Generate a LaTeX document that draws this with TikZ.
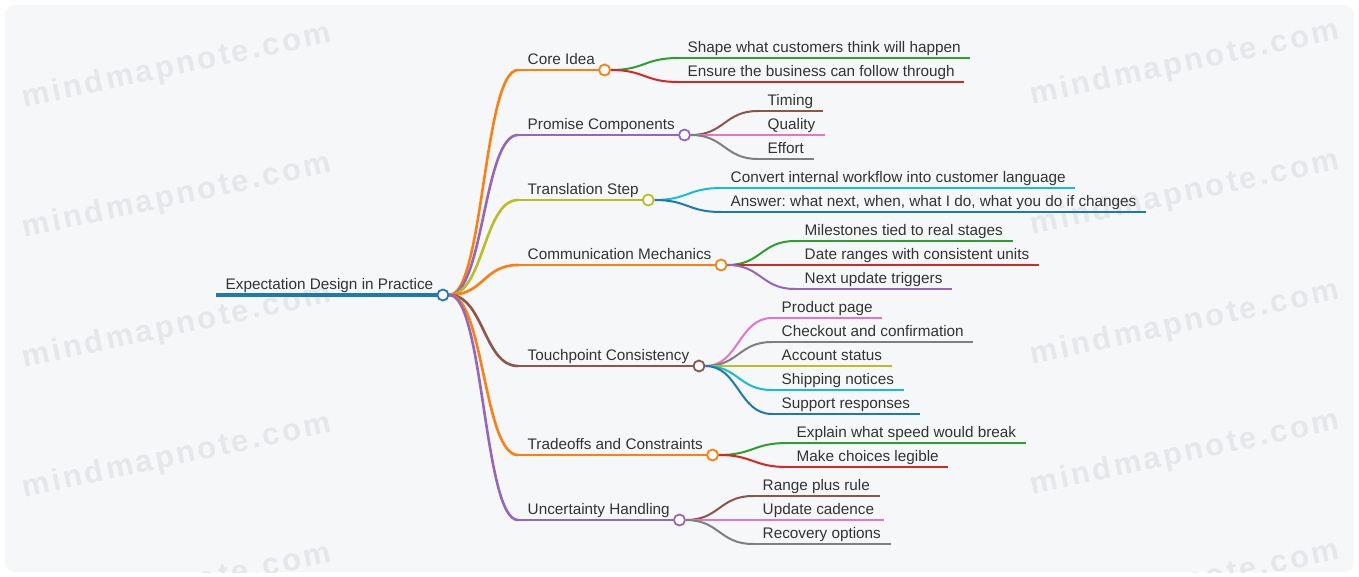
\documentclass[tikz,border=0pt]{standalone}
\usepackage{fontspec}
\setmainfont{Liberation Sans}
\newfontfamily\wmfont[LetterSpace=9]{Liberation Sans}
\usetikzlibrary{calc}
\frenchspacing
\definecolor{cblue}{HTML}{1F77B4}
\definecolor{corange}{HTML}{FF7F0E}
\definecolor{cgreen}{HTML}{2CA02C}
\definecolor{cred}{HTML}{D62728}
\definecolor{cpurple}{HTML}{9467BD}
\definecolor{cbrown}{HTML}{8C564B}
\definecolor{cpink}{HTML}{E377C2}
\definecolor{cgray}{HTML}{7F7F7F}
\definecolor{colive}{HTML}{BCBD22}
\definecolor{ccyan}{HTML}{17BECF}
\definecolor{txt}{HTML}{333333}
\definecolor{panel}{HTML}{F6F7F9}
\definecolor{wm}{HTML}{E5E7EA}
\pgfdeclarelayer{back}
\pgfdeclarelayer{bg}
\pgfsetlayers{back,bg,main}
\tikzset{
  lbl/.style={anchor=south west, inner xsep=9.5pt, inner ysep=5pt, text depth=0pt,
    font=\frenchspacing\fontsize{15.3}{18}\selectfont, text=txt},
  dot/.style={circle, draw=#1, fill=white, line width=1.8pt, minimum size=11pt, inner sep=0pt},
  rootline/.style={line width=4pt},
  branchline/.style={line width=2.6pt},
  leafline/.style={line width=2pt},
  wmtext/.style={rotate=12, text=wm, font=\wmfont\bfseries\fontsize{31}{34}\selectfont}
}
\newcommand\mmlink[3]{%
  \draw[#3] let \p1=(#1.east), \p2=(#2.south west) in
    (\p1) .. controls ({(\x1+\x2)/2},\y1) and ({(\x1+\x2)/2},\y2) .. (\p2);}
\newcommand\uline[3]{\draw[#3] (#1.south west) -- (#2.south east);}
\begin{document}
\begin{tikzpicture}[x=1pt,y=-1pt]
\useasboundingbox (0,0) rectangle (1359,577);
\begin{pgfonlayer}{back}
  \fill[white] (0,0) rectangle (1359,577);
  \fill[panel, rounded corners=10pt] (5,5) rectangle (1354,572);
  \begin{scope}
    \clip[rounded corners=10pt] (5,5) rectangle (1354,572);
    \foreach \j/\yy in {1/67,2/197,3/327,4/457,5/587}{
      \node[wmtext] (wmL\j) at (177,\yy) {mindmapnote.com};
      \node[wmtext] (wmR\j) at (1185,\yy-3) {mindmapnote.com};
    }
  \end{scope}
\end{pgfonlayer}

% root
\node[lbl] (root) at (216,295) {Expectation Design in Practice};

% branches
\node[lbl] (b1) at (518,70) {Core Idea};
\node[lbl] (b2) at (518,135) {Promise Components};
\node[lbl] (b3) at (518,200) {Translation Step};
\node[lbl] (b4) at (518,265) {Communication Mechanics};
\node[lbl] (b5) at (518,366) {Touchpoint Consistency};
\node[lbl] (b6) at (518,455) {Tradeoffs and Constraints};
\node[lbl] (b7) at (518,520) {Uncertainty Handling};

% leaves
\node[lbl] (l11) at (678,58) {Shape what customers think will happen};
\node[lbl] (l12) at (678,82) {Ensure the business can follow through};
\node[lbl] (l21) at (758,111) {Timing};
\node[lbl] (l22) at (758,135) {Quality};
\node[lbl] (l23) at (758,159) {Effort};
\node[lbl] (l31) at (721,188) {Convert internal workflow into customer language};
\node[lbl] (l32) at (721,212) {Answer: what next, when, what I do, what you do if changes};
\node[lbl] (l41) at (795,241) {Milestones tied to real stages};
\node[lbl] (l42) at (795,265) {Date ranges with consistent units};
\node[lbl] (l43) at (795,289) {Next update triggers};
\node[lbl] (l51) at (772,318) {Product page};
\node[lbl] (l52) at (772,342) {Checkout and confirmation};
\node[lbl] (l53) at (772,366) {Account status};
\node[lbl] (l54) at (772,390) {Shipping notices};
\node[lbl] (l55) at (772,414) {Support responses};
\node[lbl] (l61) at (787,443) {Explain what speed would break};
\node[lbl] (l62) at (787,467) {Make choices legible};
\node[lbl] (l71) at (753,496) {Range plus rule};
\node[lbl] (l72) at (753,520) {Update cadence};
\node[lbl] (l73) at (753,544) {Recovery options};

% dots
\node[dot=cblue] (r0) at (root.south east) {};
\node[dot=corange] (d1) at (b1.south east) {};
\node[dot=cpurple] (d2) at (b2.south east) {};
\node[dot=colive] (d3) at (b3.south east) {};
\node[dot=corange] (d4) at (b4.south east) {};
\node[dot=cbrown] (d5) at (b5.south east) {};
\node[dot=corange] (d6) at (b6.south east) {};
\node[dot=cpurple] (d7) at (b7.south east) {};

\begin{pgfonlayer}{bg}
  % underlines
  \uline{root}{root}{cblue, rootline}
  \uline{b1}{b1}{corange, branchline}
  \uline{b2}{b2}{cpurple, branchline}
  \uline{b3}{b3}{colive, branchline}
  \uline{b4}{b4}{corange, branchline}
  \uline{b5}{b5}{cbrown, branchline}
  \uline{b6}{b6}{corange, branchline}
  \uline{b7}{b7}{cpurple, branchline}
  \uline{l11}{l11}{cgreen, leafline}
  \uline{l12}{l12}{cred, leafline}
  \uline{l21}{l21}{cbrown, leafline}
  \uline{l22}{l22}{cpink, leafline}
  \uline{l23}{l23}{cgray, leafline}
  \uline{l31}{l31}{ccyan, leafline}
  \uline{l32}{l32}{cblue, leafline}
  \uline{l41}{l41}{cgreen, leafline}
  \uline{l42}{l42}{cred, leafline}
  \uline{l43}{l43}{cpurple, leafline}
  \uline{l51}{l51}{cpink, leafline}
  \uline{l52}{l52}{cgray, leafline}
  \uline{l53}{l53}{colive, leafline}
  \uline{l54}{l54}{ccyan, leafline}
  \uline{l55}{l55}{cblue, leafline}
  \uline{l61}{l61}{cgreen, leafline}
  \uline{l62}{l62}{cred, leafline}
  \uline{l71}{l71}{cbrown, leafline}
  \uline{l72}{l72}{cpink, leafline}
  \uline{l73}{l73}{cgray, leafline}
  % root to branches
  \mmlink{r0}{b1}{corange, branchline}
  \mmlink{r0}{b2}{cpurple, branchline}
  \mmlink{r0}{b3}{colive, branchline}
  \mmlink{r0}{b4}{corange, branchline}
  \mmlink{r0}{b5}{cbrown, branchline}
  \mmlink{r0}{b6}{corange, branchline}
  \mmlink{r0}{b7}{cpurple, branchline}
  % branches to leaves
  \mmlink{d1}{l11}{cgreen, leafline}
  \mmlink{d1}{l12}{cred, leafline}
  \mmlink{d2}{l21}{cbrown, leafline}
  \mmlink{d2}{l22}{cpink, leafline}
  \mmlink{d2}{l23}{cgray, leafline}
  \mmlink{d3}{l31}{ccyan, leafline}
  \mmlink{d3}{l32}{cblue, leafline}
  \mmlink{d4}{l41}{cgreen, leafline}
  \mmlink{d4}{l42}{cred, leafline}
  \mmlink{d4}{l43}{cpurple, leafline}
  \mmlink{d5}{l51}{cpink, leafline}
  \mmlink{d5}{l52}{cgray, leafline}
  \mmlink{d5}{l53}{colive, leafline}
  \mmlink{d5}{l54}{ccyan, leafline}
  \mmlink{d5}{l55}{cblue, leafline}
  \mmlink{d6}{l61}{cgreen, leafline}
  \mmlink{d6}{l62}{cred, leafline}
  \mmlink{d7}{l71}{cbrown, leafline}
  \mmlink{d7}{l72}{cpink, leafline}
  \mmlink{d7}{l73}{cgray, leafline}
\end{pgfonlayer}
\end{tikzpicture}
\end{document}
